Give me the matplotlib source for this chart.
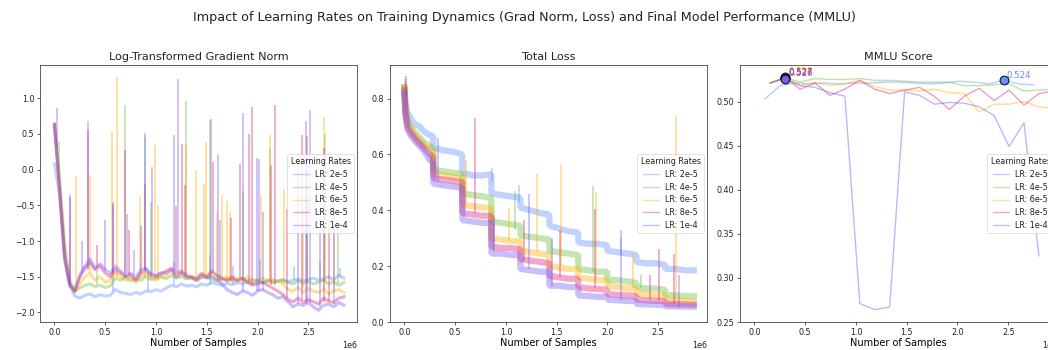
import numpy as np
import matplotlib
matplotlib.use('Agg')
import matplotlib.pyplot as plt
from matplotlib.lines import Line2D
from matplotlib.ticker import MultipleLocator

lr_labels = ['LR: 2e-5', 'LR: 4e-5', 'LR: 6e-5', 'LR: 8e-5', 'LR: 1e-4']
lr_colors = ['#648FFF', '#6ABF40', '#FFB000', '#DC267F', '#785EF0']

# ---- log gradient norm, one value every 50k samples (0 .. 2.85M) ----
grad_x = np.arange(58) * 0.05e6
grad_2e5 = [0.08, -0.35, -1.25, -1.62, -1.77, -1.80, -1.76, -1.74, -1.78, -1.75, -1.77, -1.76,
            -1.68, -1.72, -1.73, -1.75, -1.72, -1.74, -1.70, -1.71, -1.68, -1.70, -1.66, -1.62,
            -1.64, -1.60, -1.63, -1.62, -1.64, -1.60, -1.62, -1.58, -1.60, -1.62, -1.59, -1.61,
            -1.58, -1.60, -1.57, -1.60, -1.56, -1.58, -1.55, -1.58, -1.56, -1.54, -1.57, -1.55,
            -1.53, -1.56, -1.54, -1.52, -1.55, -1.53, -1.50, -1.54, -1.48, -1.52]
grad_4e5 = [0.62, -0.10, -1.05, -1.55, -1.70, -1.66, -1.62, -1.60, -1.64, -1.62, -1.65, -1.63,
            -1.52, -1.55, -1.50, -1.56, -1.53, -1.55, -1.50, -1.54, -1.52, -1.50, -1.53, -1.48,
            -1.52, -1.50, -1.53, -1.51, -1.55, -1.52, -1.50, -1.54, -1.55, -1.52, -1.56, -1.53,
            -1.55, -1.52, -1.56, -1.54, -1.55, -1.58, -1.56, -1.54, -1.57, -1.55, -1.58, -1.60,
            -1.56, -1.59, -1.57, -1.60, -1.58, -1.55, -1.60, -1.57, -1.62, -1.58]
grad_6e5 = [0.62, -0.20, -1.15, -1.60, -1.72, -1.60, -1.50, -1.45, -1.55, -1.50, -1.58, -1.55,
            -1.45, -1.50, -1.55, -1.52, -1.58, -1.50, -1.45, -1.52, -1.55, -1.50, -1.48, -1.42,
            -1.50, -1.45, -1.52, -1.50, -1.55, -1.48, -1.50, -1.45, -1.52, -1.55, -1.50, -1.56,
            -1.52, -1.55, -1.50, -1.58, -1.55, -1.52, -1.56, -1.58, -1.55, -1.60, -1.68, -1.70,
            -1.65, -1.72, -1.66, -1.70, -1.72, -1.68, -1.74, -1.70, -1.68, -1.72]
grad_8e5 = [0.64, -0.30, -1.25, -1.62, -1.70, -1.50, -1.38, -1.30, -1.40, -1.35, -1.45, -1.50,
            -1.40, -1.45, -1.50, -1.48, -1.55, -1.45, -1.40, -1.48, -1.50, -1.46, -1.42, -1.38,
            -1.45, -1.42, -1.48, -1.50, -1.52, -1.45, -1.50, -1.42, -1.48, -1.52, -1.55, -1.50,
            -1.56, -1.52, -1.58, -1.62, -1.60, -1.58, -1.62, -1.66, -1.70, -1.75, -1.82, -1.85,
            -1.80, -1.86, -1.82, -1.85, -1.88, -1.80, -1.84, -1.86, -1.80, -1.78]
grad_1e4 = [0.63, -0.25, -1.20, -1.60, -1.70, -1.48, -1.35, -1.25, -1.38, -1.32, -1.40, -1.45,
            -1.35, -1.42, -1.48, -1.45, -1.52, -1.40, -1.38, -1.46, -1.48, -1.44, -1.45, -1.40,
            -1.50, -1.45, -1.50, -1.52, -1.55, -1.48, -1.52, -1.50, -1.55, -1.60, -1.68, -1.72,
            -1.75, -1.70, -1.72, -1.76, -1.70, -1.68, -1.72, -1.75, -1.80, -1.78, -1.85, -1.92,
            -1.88, -1.90, -1.86, -1.92, -1.97, -1.90, -1.88, -1.92, -1.86, -1.90]

# spikes: (samples in millions, foot, peak)
spikes_grad_2e5 = [(0.58, -1.70, -1.40), (0.92, -1.70, -1.45), (1.18, -1.62, -1.30),
                   (1.53, -1.60, -1.20), (1.76, -1.60, -1.35), (2.02, -1.56, -1.25),
                   (2.36, -1.55, -1.35), (2.62, -1.53, -1.30), (2.81, -1.50, -1.38)]
spikes_grad_4e5 = [(0.04, -0.10, 0.39), (0.42, -1.62, -1.40), (0.69, -1.52, 0.91),
                   (0.89, -1.50, 0.46), (0.95, -1.52, -0.46), (1.30, -1.50, 0.96),
                   (1.53, -1.52, 0.69), (1.86, -1.55, -0.30), (2.12, -1.56, 0.30),
                   (2.49, -1.57, -0.40), (2.66, -1.58, 0.50), (2.79, -1.60, -0.80)]
spikes_grad_6e5 = [(0.216, -1.70, -0.09), (0.354, -1.45, -0.08), (0.567, -1.55, 0.54),
                   (0.613, -1.50, 1.30), (0.839, -1.50, -0.37), (0.99, -1.50, 0.34),
                   (1.02, -1.55, -0.51), (1.30, -1.50, 0.34), (1.396, -1.50, 0.0),
                   (1.47, -1.50, -0.20), (1.49, -1.48, 0.38), (1.60, -1.52, -0.60),
                   (1.65, -1.50, -0.36), (1.70, -1.56, -0.44), (1.73, -1.55, -0.60),
                   (2.03, -1.55, -0.37), (2.12, -1.55, 0.48), (2.265, -1.60, -0.27),
                   (2.45, -1.66, -0.55), (2.655, -1.68, 0.73), (2.75, -1.70, -0.30)]
spikes_grad_8e5 = [(0.157, -1.62, -0.35), (0.328, -1.40, 0.55), (0.42, -1.38, -1.05),
                   (0.577, -1.45, -0.46), (0.69, -1.45, 0.27), (0.73, -1.48, -0.84),
                   (0.85, -1.45, -0.79), (0.888, -1.40, -0.20), (1.196, -1.42, -0.51),
                   (1.26, -1.45, 0.36), (1.29, -1.48, -0.22), (1.56, -1.45, 0.10),
                   (1.74, -1.56, -0.68), (1.83, -1.52, 0.08), (1.92, -1.58, 0.50),
                   (1.95, -1.60, 0.88), (2.13, -1.62, 0.06), (2.17, -1.62, 0.90),
                   (2.29, -1.80, -0.55), (2.44, -1.82, 0.48), (2.49, -1.85, 0.47),
                   (2.65, -1.85, 0.30), (2.70, -1.84, -0.70)]
spikes_grad_1e4 = [(0.026, 0.30, 0.86), (0.157, -1.60, -0.40), (0.27, -1.45, -1.00),
                   (0.328, -1.38, 0.68), (0.501, -1.40, -0.70), (0.577, -1.45, -0.50),
                   (0.71, -1.45, -0.62), (0.786, -1.48, -1.13), (0.888, -1.40, 0.51),
                   (0.964, -1.46, 0.04), (1.173, -1.40, 0.48), (1.216, -1.45, 1.27),
                   (1.54, -1.50, 0.71), (1.61, -1.55, 0.20), (1.63, -1.58, -0.70),
                   (1.855, -1.70, 0.79), (1.99, -1.70, 0.16), (2.01, -1.70, 0.15),
                   (2.05, -1.68, -0.60), (2.40, -1.88, 0.22), (2.48, -1.88, 0.68),
                   (2.52, -1.86, 0.83), (2.62, -1.92, -0.50), (2.75, -1.88, -0.40)]

# ---- total loss, 10 epochs of ~286k samples (millions) ----
loss_x = [0.0, 0.01, 0.03, 0.06, 0.10, 0.15, 0.20, 0.25, 0.283,
          0.286, 0.38, 0.48, 0.569,
          0.572, 0.67, 0.77, 0.855,
          0.858, 0.95, 1.05, 1.140,
          1.143, 1.24, 1.34, 1.426,
          1.429, 1.52, 1.62, 1.711,
          1.714, 1.81, 1.91, 1.997,
          2.000, 2.10, 2.20, 2.283,
          2.286, 2.38, 2.48, 2.568,
          2.571, 2.67, 2.77, 2.850]
loss_2e5 = [0.84, 0.79, 0.75, 0.73, 0.71, 0.70, 0.68, 0.67, 0.665,
            0.625, 0.615, 0.61, 0.60,
            0.535, 0.525, 0.525, 0.53,
            0.46, 0.455, 0.45, 0.445,
            0.41, 0.40, 0.39, 0.385,
            0.345, 0.335, 0.325, 0.32,
            0.285, 0.28, 0.28, 0.275,
            0.255, 0.25, 0.245, 0.24,
            0.215, 0.21, 0.21, 0.205,
            0.19, 0.19, 0.185, 0.185]
loss_4e5 = [0.84, 0.77, 0.72, 0.70, 0.68, 0.66, 0.64, 0.63, 0.62,
            0.545, 0.54, 0.535, 0.53,
            0.46, 0.455, 0.45, 0.445,
            0.36, 0.355, 0.35, 0.345,
            0.31, 0.305, 0.30, 0.295,
            0.255, 0.25, 0.245, 0.24,
            0.19, 0.185, 0.18, 0.18,
            0.15, 0.15, 0.145, 0.14,
            0.125, 0.12, 0.12, 0.115,
            0.097, 0.095, 0.093, 0.092]
loss_6e5 = [0.84, 0.76, 0.71, 0.69, 0.67, 0.65, 0.63, 0.62, 0.61,
            0.53, 0.525, 0.52, 0.515,
            0.42, 0.415, 0.41, 0.41,
            0.30, 0.295, 0.29, 0.29,
            0.255, 0.25, 0.245, 0.24,
            0.20, 0.195, 0.19, 0.19,
            0.16, 0.155, 0.15, 0.15,
            0.13, 0.125, 0.12, 0.12,
            0.10, 0.10, 0.095, 0.095,
            0.078, 0.076, 0.074, 0.073]
loss_8e5 = [0.83, 0.75, 0.70, 0.68, 0.66, 0.64, 0.62, 0.60, 0.59,
            0.515, 0.51, 0.505, 0.50,
            0.39, 0.385, 0.38, 0.38,
            0.27, 0.265, 0.265, 0.26,
            0.225, 0.22, 0.215, 0.21,
            0.165, 0.16, 0.155, 0.155,
            0.125, 0.12, 0.118, 0.115,
            0.10, 0.097, 0.095, 0.093,
            0.08, 0.078, 0.076, 0.075,
            0.065, 0.064, 0.063, 0.062]
loss_1e4 = [0.82, 0.74, 0.69, 0.67, 0.65, 0.63, 0.61, 0.58, 0.57,
            0.495, 0.49, 0.485, 0.48,
            0.365, 0.36, 0.355, 0.355,
            0.245, 0.245, 0.24, 0.24,
            0.19, 0.185, 0.18, 0.18,
            0.13, 0.13, 0.125, 0.125,
            0.095, 0.093, 0.09, 0.09,
            0.08, 0.078, 0.075, 0.075,
            0.065, 0.063, 0.062, 0.06,
            0.057, 0.056, 0.055, 0.055]

spikes_loss_2e5 = [(0.004, 0.80, 0.87), (0.86, 0.50, 0.55), (1.13, 0.43, 0.49), (2.13, 0.24, 0.30)]
spikes_loss_4e5 = [(0.02, 0.78, 0.86), (1.086, 0.33, 0.47), (1.86, 0.18, 0.486), (2.33, 0.12, 0.17)]
spikes_loss_6e5 = [(0.61, 0.42, 0.58), (1.03, 0.29, 0.41), (1.31, 0.25, 0.53), (1.54, 0.20, 0.565),
                   (1.89, 0.15, 0.466), (2.25, 0.12, 0.245), (2.673, 0.075, 0.737)]
spikes_loss_8e5 = [(0.012, 0.76, 0.88), (0.693, 0.39, 0.73), (1.178, 0.22, 0.365), (1.535, 0.16, 0.33),
                   (1.88, 0.12, 0.406), (2.42, 0.08, 0.17), (2.505, 0.075, 0.263), (2.66, 0.065, 0.245)]
spikes_loss_1e4 = [(0.327, 0.50, 0.66), (0.88, 0.25, 0.375), (1.228, 0.19, 0.46), (1.449, 0.13, 0.30),
                   (2.13, 0.08, 0.33), (2.70, 0.055, 0.17)]

# ---- MMLU evaluations (samples in millions) ----
mmlu_x_2e5 = [0.105, 0.252, 0.399, 0.546, 0.693, 0.840, 0.987, 1.134, 1.281, 1.428,
              1.575, 1.722, 1.869, 2.016, 2.163, 2.310, 2.457, 2.604, 2.751]
mmlu_x = [0.156, 0.303, 0.450, 0.597, 0.744, 0.891, 1.038, 1.185, 1.332, 1.479,
          1.626, 1.773, 1.920, 2.067, 2.214, 2.361, 2.508, 2.655, 2.802, 2.949]
mmlu_2e5 = [0.503, 0.518, 0.521, 0.520, 0.521, 0.520, 0.521, 0.521, 0.522, 0.522,
            0.521, 0.520, 0.521, 0.523, 0.522, 0.520, 0.524, 0.520, 0.519]
mmlu_4e5 = [0.521, 0.527, 0.522, 0.526, 0.525, 0.525, 0.526, 0.524, 0.524, 0.523,
            0.522, 0.522, 0.522, 0.518, 0.518, 0.519, 0.520, 0.512, 0.513, 0.514]
mmlu_6e5 = [0.521, 0.528, 0.518, 0.522, 0.518, 0.520, 0.524, 0.517, 0.513, 0.513,
            0.512, 0.514, 0.510, 0.509, 0.488, 0.497, 0.497, 0.500, 0.494, 0.492]
mmlu_8e5 = [0.521, 0.527, 0.514, 0.521, 0.507, 0.514, 0.524, 0.514, 0.509, 0.513,
            0.516, 0.506, 0.491, 0.506, 0.515, 0.501, 0.513, 0.496, 0.509, 0.512]
mmlu_1e4 = [0.521, 0.526, 0.518, 0.516, 0.510, 0.506, 0.271, 0.264, 0.267, 0.511,
            0.507, 0.497, 0.499, 0.498, 0.494, 0.484, 0.449, 0.476, 0.325]

grad_all = [grad_2e5, grad_4e5, grad_6e5, grad_8e5, grad_1e4]
grad_spikes = [spikes_grad_2e5, spikes_grad_4e5, spikes_grad_6e5, spikes_grad_8e5, spikes_grad_1e4]
loss_all = [loss_2e5, loss_4e5, loss_6e5, loss_8e5, loss_1e4]
loss_spikes = [spikes_loss_2e5, spikes_loss_4e5, spikes_loss_6e5, spikes_loss_8e5, spikes_loss_1e4]
mmlu_all = [mmlu_2e5, mmlu_4e5, mmlu_6e5, mmlu_8e5, mmlu_1e4]
mmlu_xs = [mmlu_x_2e5, mmlu_x, mmlu_x, mmlu_x, mmlu_x[:19]]

plt.rcParams['font.family'] = 'DejaVu Sans'
plt.rcParams['axes.linewidth'] = 0.6
plt.rcParams['axes.edgecolor'] = '#444444'
plt.rcParams['xtick.major.width'] = 0.5
plt.rcParams['ytick.major.width'] = 0.5
plt.rcParams['xtick.major.size'] = 2
plt.rcParams['ytick.major.size'] = 2
plt.rcParams['xtick.labelsize'] = 5.8
plt.rcParams['ytick.labelsize'] = 5.8
plt.rcParams['xtick.major.pad'] = 2
plt.rcParams['ytick.major.pad'] = 2
plt.rcParams['text.color'] = '#222222'
plt.rcParams['xtick.color'] = '#222222'
plt.rcParams['ytick.color'] = '#222222'

fig = plt.figure(figsize=(10.48, 3.5), dpi=100)
ax1 = fig.add_axes([0.0382, 0.08, 0.3025, 0.734])
ax2 = fig.add_axes([0.3721, 0.08, 0.3025, 0.734])
ax3 = fig.add_axes([0.7061, 0.08, 0.3025, 0.734])

alpha = 0.4

# gradient norm
for vals, spk, c in zip(grad_all, grad_spikes, lr_colors):
    ax1.plot(grad_x, vals, color=c, alpha=alpha, lw=2.2)
    sx, lo, hi = zip(*spk)
    ax1.vlines(np.array(sx) * 1e6, lo, hi, color=c, alpha=alpha, lw=1.3)

# loss: thick band per run plus spikes
for vals, spk, c in zip(loss_all, loss_spikes, lr_colors):
    ax2.plot(np.array(loss_x) * 1e6, vals, color=c, alpha=alpha, lw=4.5, solid_joinstyle='bevel')
    sx, lo, hi = zip(*spk)
    ax2.vlines(np.array(sx) * 1e6, lo, hi, color=c, alpha=alpha, lw=1.3)

# MMLU with best score marked
for xs, vals, c in zip(mmlu_xs, mmlu_all, lr_colors):
    ax3.plot(np.array(xs) * 1e6, vals, color=c, alpha=0.45, lw=1.0)
for xs, vals, c in zip(mmlu_xs, mmlu_all, lr_colors):
    i = int(np.argmax(vals))
    bx = xs[i] * 1e6
    ax3.scatter(bx, vals[i], s=40, color=c, edgecolor='black', linewidth=0.7, zorder=5)
    ax3.annotate(f'{vals[i]:.3f}', (bx, vals[i]), xytext=(2, 0.5), textcoords='offset points',
                 color=c, fontsize=6.2, ha='left', va='bottom')

for ax in (ax1, ax2, ax3):
    ax.set_xlim(-0.142e6, 2.98e6)
ax2.set_ylim(0, 0.92)
ax2.yaxis.set_major_locator(MultipleLocator(0.2))
ax3.set_ylim(0.25, 0.5413)

titles = ['Log-Transformed Gradient Norm', 'Total Loss', 'MMLU Score']
handles = [Line2D([], [], color=c, alpha=alpha, lw=1.0) for c in lr_colors]
for ax, t in zip((ax1, ax2, ax3), titles):
    ax.set_title(t, fontsize=8.1, pad=4)
    ax.set_xlabel('Number of Samples', fontsize=7, labelpad=1)
    ax.xaxis.get_offset_text().set_fontsize(5.8)
    leg = ax.legend(handles, lr_labels, title='Learning Rates', loc='center right',
                    fontsize=5.8, title_fontsize=5.8, handlelength=2.0, borderpad=0.4,
                    labelspacing=0.45, borderaxespad=0.4)
    leg.get_frame().set_linewidth(0.5)

fig.suptitle('Impact of Learning Rates on Training Dynamics (Grad Norm, Loss) and Final Model Performance (MMLU)',
             fontsize=9.2, y=0.951, va='center')

fig.savefig('out.png', dpi=100)
